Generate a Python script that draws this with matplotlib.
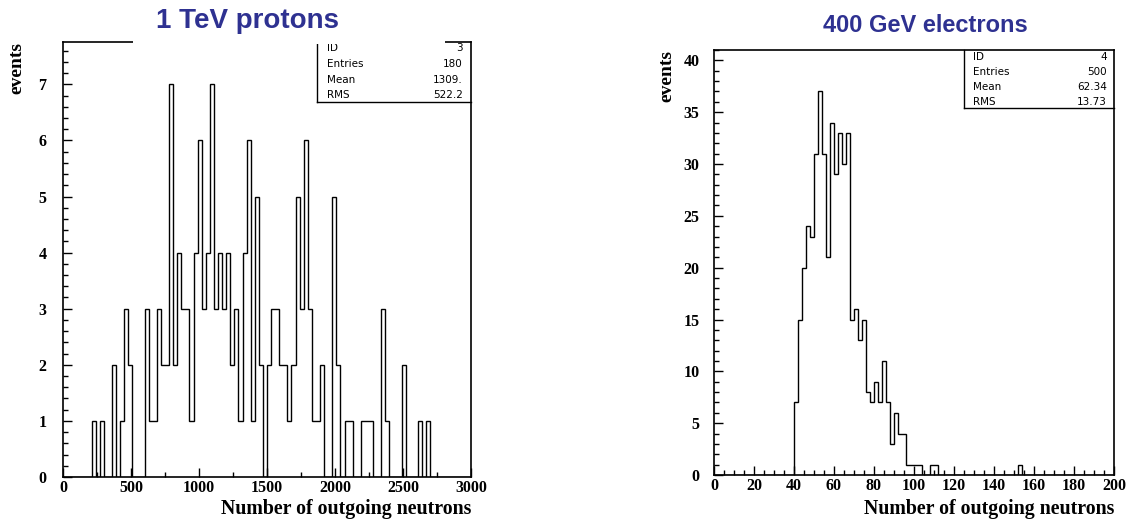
import matplotlib.pyplot as plt
import numpy as np
from matplotlib.patches import Rectangle
from matplotlib.ticker import MultipleLocator

# Dados (100 bins cada)
proton_range = (0, 3000)
proton_counts = [0, 0, 0, 0, 0, 0, 0, 1, 0, 1,
                 0, 0, 2, 0, 1, 3, 2, 0, 0, 0,
                 3, 1, 1, 3, 2, 2, 7, 2, 4, 3,
                 3, 1, 4, 6, 3, 4, 7, 3, 4, 3,
                 4, 2, 3, 1, 4, 6, 1, 5, 2, 0,
                 2, 3, 3, 2, 2, 1, 2, 5, 3, 6,
                 3, 1, 1, 2, 0, 0, 5, 2, 0, 1,
                 1, 0, 0, 1, 1, 1, 0, 0, 3, 1,
                 0, 0, 0, 2, 0, 0, 0, 1, 0, 1,
                 0, 0, 0, 0, 0, 0, 0, 0, 0, 0]
proton_stats = [("ID", "3"), ("Entries", "180"), ("Mean", "1309."), ("RMS", "522.2")]

electron_range = (0, 200)
electron_counts = [0, 0, 0, 0, 0, 0, 0, 0, 0, 0,
                   0, 0, 0, 0, 0, 0, 0, 0, 0, 0,
                   7, 15, 20, 24, 23, 31, 37, 31, 21, 34,
                   29, 33, 30, 33, 15, 16, 13, 15, 8, 7,
                   9, 7, 11, 7, 3, 6, 4, 4, 1, 1,
                   1, 1, 0, 0, 1, 1, 0, 0, 0, 0,
                   0, 0, 0, 0, 0, 0, 0, 0, 0, 0,
                   0, 0, 0, 0, 0, 0, 1, 0, 0, 0,
                   0, 0, 0, 0, 0, 0, 0, 0, 0, 0,
                   0, 0, 0, 0, 0, 0, 0, 0, 0, 0]
electron_stats = [("ID", "4"), ("Entries", "500"), ("Mean", "62.34"), ("RMS", "13.73")]

W, H = 1131, 521
serif = "Liberation Serif"
azul = "#2e3191"

fig = plt.figure(figsize=(W / 100, H / 100), dpi=100)


def eixo(x0, x1, ytop, ybot):
    return fig.add_axes([x0 / W, 1 - ybot / H, (x1 - x0) / W, (ybot - ytop) / H])


def histograma(ax, counts, rng, ymax, xmaj, xmin, ymaj, ymin, ypad):
    edges = np.linspace(rng[0], rng[1], len(counts) + 1)
    ax.stairs(counts, edges, color="black", lw=1.0, baseline=0)
    ax.set_xlim(rng)
    ax.set_ylim(0, ymax)
    ax.xaxis.set_major_locator(MultipleLocator(xmaj))
    ax.xaxis.set_minor_locator(MultipleLocator(xmin))
    ax.yaxis.set_major_locator(MultipleLocator(ymaj))
    ax.yaxis.set_minor_locator(MultipleLocator(ymin))
    ax.tick_params(which="both", direction="in", top=False, right=False, width=1.0)
    ax.tick_params(which="major", length=6.5)
    ax.tick_params(which="minor", length=3.5)
    ax.tick_params(axis="x", pad=2.5)
    ax.tick_params(axis="y", pad=ypad)
    for lab in ax.get_xticklabels() + ax.get_yticklabels():
        lab.set_fontfamily(serif)
        lab.set_fontweight("bold")
        lab.set_fontsize(11.5)
    for s in ax.spines.values():
        s.set_linewidth(1.2)


def caixa_stats(ax, stats, x0, yb, rows, tx0, tx1):
    ax.plot([x0, x0], [yb, 1], color="black", lw=1.0, transform=ax.transAxes, clip_on=False)
    ax.plot([x0, 1], [yb, yb], color="black", lw=1.0, transform=ax.transAxes, clip_on=False)
    for (nome, valor), y in zip(stats, rows):
        ax.text(tx0, y, nome, transform=ax.transAxes, fontsize=7.5, va="center", ha="left")
        ax.text(tx1, y, valor, transform=ax.transAxes, fontsize=7.5, va="center", ha="right")


# Protons
axL = eixo(63, 471, 41.7, 477)
histograma(axL, proton_counts, proton_range, 7.76, 500, 250, 1, 0.2, 12)
hL = 477 - 41.7
caixa_stats(axL, proton_stats, (317 - 63) / 408, (477 - 102) / hL,
            [(477 - y) / hL for y in (48, 64, 80, 95)],
            (327 - 63) / 408, (463 - 63) / 408)

# Eletrons
axR = eixo(714, 1114, 50, 475)
histograma(axR, electron_counts, electron_range, 41.0, 20, 5, 5, 1, 10.5)
hR = 475 - 50
caixa_stats(axR, electron_stats, (964 - 714) / 400, (475 - 108) / hR,
            [(475 - y) / hR for y in (57, 72, 87, 102)],
            (973 - 714) / 400, (1107 - 714) / 400)

# Faixa branca do titulo cobrindo parte da borda superior
fig.patches.append(Rectangle((133 / W, 1 - 44 / H), (445 - 133) / W, 44 / H,
                             transform=fig.transFigure, facecolor="white",
                             edgecolor="none", zorder=5))
fig.text(247 / W, 1 - 21 / H, "1 TeV protons", fontsize=20, fontweight="bold",
         color=azul, family="Liberation Sans", ha="center", va="center", zorder=6)
fig.text(925 / W, 1 - 26 / H, "400 GeV electrons", fontsize=17, fontweight="bold",
         color=azul, family="Liberation Sans", ha="center", va="center", zorder=6)

# Titulos dos eixos
for xr, ytop, xl in ((471, 42, 17), (1114, 50, 667)):
    fig.text(xr / W, 1 - 499 / H, "Number of outgoing neutrons", family=serif,
             fontweight="bold", fontsize=14.3, ha="right", va="top")
    fig.text(xl / W, 1 - ytop / H, "events", family=serif, fontweight="bold",
             fontsize=14, rotation=90, ha="center", va="top")

fig.savefig("out.png", dpi=100)
